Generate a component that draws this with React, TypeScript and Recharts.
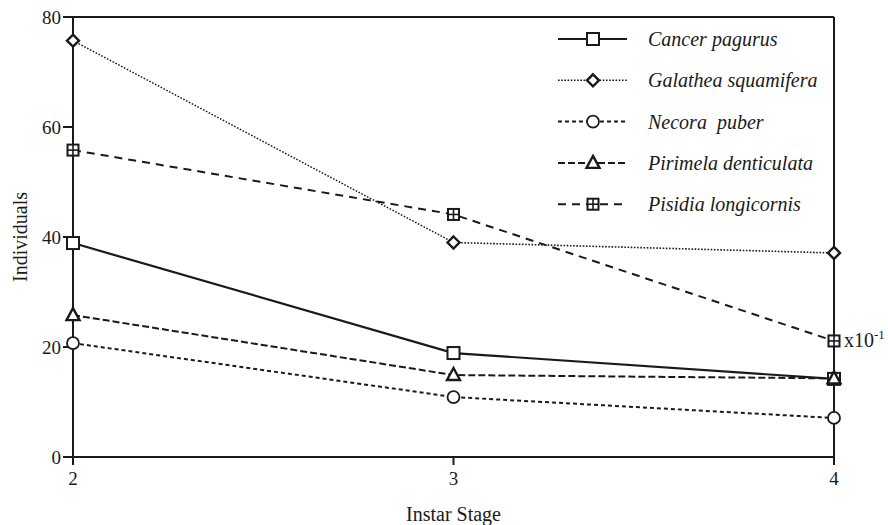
import React from 'react';
import { LineChart, Line, XAxis, YAxis, ReferenceLine, Legend } from 'recharts';

const stages = [2, 3, 4];
const cancerPagurus = [38.9, 18.9, 14.2];
const galatheaSquamifera = [75.7, 39.0, 37.1];
const necoraPuber = [20.7, 10.9, 7.1];
const pirimelaDenticulata = [25.8, 14.9, 14.3];
const pisidiaLongicornis = [55.8, 44.1, 21.1];
const yTicks = [0, 20, 40, 60, 80];
const xTicks = [2, 3, 4];
const seriesNames = ['Cancer pagurus', 'Galathea squamifera', 'Necora\u00a0 puber', 'Pirimela denticulata', 'Pisidia longicornis'];
const scaleNoteBase = 'x10';
const scaleNoteExp = '-1';

const data = stages.map((s, i) => ({
  stage: s,
  cancer: cancerPagurus[i],
  galathea: galatheaSquamifera[i],
  necora: necoraPuber[i],
  pirimela: pirimelaDenticulata[i],
  pisidia: pisidiaLongicornis[i],
}));

const INK = '#1a1a1a';
const FONT = "'Liberation Serif', 'Times New Roman', serif";

type Kind = 'square' | 'diamond' | 'circle' | 'triangle' | 'crossSquare';

function Marker({ kind, cx, cy }: { kind: Kind; cx: number; cy: number }) {
  if (cx == null || cy == null) return null;
  const common = { fill: '#fff', stroke: INK, strokeWidth: 2 };
  switch (kind) {
    case 'square':
      return <rect x={cx - 6} y={cy - 6} width={12} height={12} {...common} />;
    case 'diamond':
      return <polygon points={`${cx},${cy - 6} ${cx + 6},${cy} ${cx},${cy + 6} ${cx - 6},${cy}`} {...common} strokeWidth={2.4} />;
    case 'circle':
      return <circle cx={cx} cy={cy} r={6} {...common} strokeWidth={1.8} />;
    case 'triangle':
      return <polygon points={`${cx},${cy - 7} ${cx + 6.5},${cy + 5} ${cx - 6.5},${cy + 5}`} {...common} strokeWidth={2.4} />;
    case 'crossSquare':
      return (
        <g>
          <rect x={cx - 5.5} y={cy - 5.5} width={11} height={11} {...common} />
          <line x1={cx} y1={cy - 5.5} x2={cx} y2={cy + 5.5} stroke={INK} strokeWidth={1.6} />
          <line x1={cx - 5.5} y1={cy} x2={cx + 5.5} y2={cy} stroke={INK} strokeWidth={1.6} />
        </g>
      );
  }
  return null;
}

const series: { key: string; name: string; kind: Kind; dash?: string; width: number }[] = [
  { key: 'cancer', name: seriesNames[0], kind: 'square', width: 2.2 },
  { key: 'galathea', name: seriesNames[1], kind: 'diamond', dash: '1.6 1.6', width: 1.6 },
  { key: 'necora', name: seriesNames[2], kind: 'circle', dash: '4 3', width: 2 },
  { key: 'pirimela', name: seriesNames[3], kind: 'triangle', dash: '7 3', width: 2 },
  { key: 'pisidia', name: seriesNames[4], kind: 'crossSquare', dash: '8 6', width: 2 },
];

function LegendContent() {
  return (
    <svg width={300} height={210} style={{ overflow: 'visible', fontFamily: FONT }}>
      {series.map((s, i) => {
        const y = 22 + i * 41.3;
        return (
          <g key={s.key}>
            <line x1={18} x2={87} y1={y} y2={y} stroke={INK} strokeWidth={s.width} strokeDasharray={s.dash} />
            <Marker kind={s.kind} cx={53} cy={y} />
            <text x={108} y={y + 7} fontSize={20} fill={INK} style={{ whiteSpace: 'pre', fontFamily: FONT, fontStyle: 'italic' }}>
              {s.name}
            </text>
          </g>
        );
      })}
    </svg>
  );
}

const renderPisidiaLabel = (props: any) => {
  const { x, y, index } = props;
  if (index !== data.length - 1) return null;
  return (
    <text x={x + 10} y={y + 6} fontSize={20} fill={INK} style={{ fontFamily: FONT }}>
      {scaleNoteBase}
      <tspan dy={-8} fontSize={13}>{scaleNoteExp}</tspan>
    </text>
  );
};

const tickStyle = { fill: INK, fontSize: 19, style: { fontFamily: FONT } };

export default function App() {
  return (
    <div style={{ position: 'absolute', left: 0, top: 0, width: 888, height: 525, background: '#fff', fontFamily: FONT }}>
      <LineChart width={888} height={525} data={data} margin={{ top: 17, right: 54, bottom: 0, left: 0 }} style={{ fontFamily: FONT }}>
        <XAxis
          dataKey="stage"
          type="number"
          domain={[2, 4]}
          ticks={xTicks}
          height={68}
          stroke={INK}
          strokeWidth={2}
          tickSize={8}
          tickMargin={7}
          tick={tickStyle}
          label={{ value: 'Instar Stage', position: 'insideBottom', offset: 4, fill: INK, fontSize: 20, style: { fontFamily: FONT } }}
        />
        <YAxis
          type="number"
          domain={[0, 80]}
          ticks={yTicks}
          width={73}
          stroke={INK}
          strokeWidth={2}
          tickSize={10}
          tickMargin={2}
          tick={tickStyle}
          label={{ value: 'Individuals', angle: -90, position: 'insideLeft', offset: 20, fill: INK, fontSize: 20, style: { textAnchor: 'middle', fontFamily: FONT } }}
        />
        <ReferenceLine y={80} stroke={INK} strokeWidth={2} />
        <ReferenceLine x={4} stroke={INK} strokeWidth={2} />
        {series.map((s) => (
          <Line
            key={s.key}
            dataKey={s.key}
            name={s.name}
            type="linear"
            stroke={INK}
            strokeWidth={s.width}
            strokeDasharray={s.dash}
            isAnimationActive={false}
            dot={(p: any) => <Marker key={`${s.key}-${p.index}`} kind={s.kind} cx={p.cx} cy={p.cy} />}
            activeDot={false}
            label={s.key === 'pisidia' ? renderPisidiaLabel : undefined}
          />
        ))}
        <Legend
          layout="horizontal"
          verticalAlign="middle"
          align="center"
          content={() => <LegendContent />}
          wrapperStyle={{ position: 'absolute', left: 540, top: 17, width: 300, height: 210 }}
        />
      </LineChart>
    </div>
  );
}
